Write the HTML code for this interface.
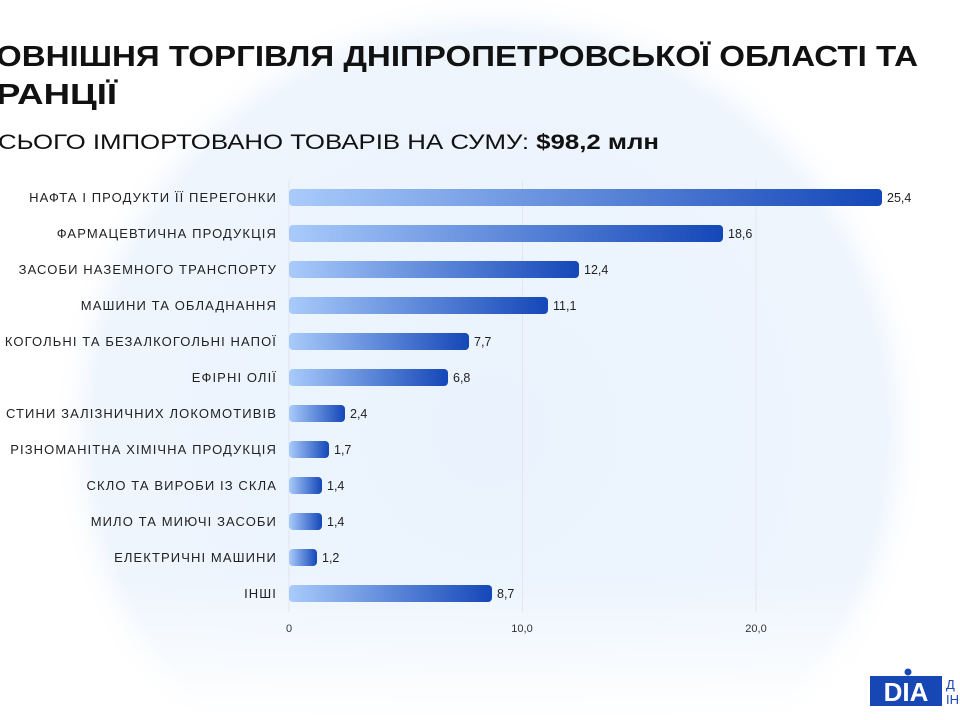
<!DOCTYPE html>
<html><head><meta charset="utf-8"><style>
html,body{margin:0;padding:0;background:#fff;width:960px;height:720px;overflow:hidden;}
body{position:relative;font-family:"Liberation Sans","DejaVu Sans",sans-serif;}
svg{display:block;}
</style></head><body>
<svg width="960" height="720" viewBox="0 0 960 720" xmlns="http://www.w3.org/2000/svg" style="position:absolute;left:0;top:0">
<defs>
<radialGradient id="bg" cx="490" cy="430" r="440" gradientUnits="userSpaceOnUse">
<stop offset="0" stop-color="#eaf3fd"/><stop offset="0.9" stop-color="#eef5fd"/><stop offset="1" stop-color="#ffffff" stop-opacity="0"/>
</radialGradient>
<linearGradient id="bar" x1="0" y1="0" x2="1" y2="0">
<stop offset="0" stop-color="#a9cbfb"/><stop offset="1" stop-color="#1447b8"/>
</linearGradient>
<linearGradient id="fade" x1="0" y1="0" x2="0" y2="1">
<stop offset="0.8" stop-color="#fff" stop-opacity="0"/><stop offset="1" stop-color="#fff" stop-opacity="1"/>
</linearGradient>
</defs>
<rect width="960" height="720" fill="#fff"/>
<circle cx="490" cy="430" r="440" fill="url(#bg)"/>
<rect width="960" height="720" fill="url(#fade)"/>
<g font-weight="bold" font-size="29" fill="#111">
<text x="-4" y="66" textLength="922" lengthAdjust="spacingAndGlyphs">ОВНІШНЯ ТОРГІВЛЯ ДНІПРОПЕТРОВСЬКОЇ ОБЛАСТІ ТА</text>
<text x="-4" y="104" textLength="121" lengthAdjust="spacingAndGlyphs">РАНЦІЇ</text>
</g>
<text x="-2" y="149" font-size="21" fill="#111" textLength="661" lengthAdjust="spacingAndGlyphs">СЬОГО ІМПОРТОВАНО ТОВАРІВ НА СУМУ: <tspan font-weight="bold">$98,2 млн</tspan></text>
<g stroke="#e2e6ee" stroke-width="1">
<line x1="289" y1="180" x2="289" y2="612"/>
<line x1="522.5" y1="180" x2="522.5" y2="612"/>
<line x1="756" y1="180" x2="756" y2="612"/>
</g>
<g font-size="11" fill="#333" text-anchor="middle">
<text x="289" y="632">0</text><text x="522" y="632">10,0</text><text x="756" y="632">20,0</text>
</g>
<g font-size="13" fill="#222" text-anchor="end" letter-spacing="1.1">
<text x="277" y="202">НАФТА І ПРОДУКТИ ЇЇ ПЕРЕГОНКИ</text>
<text x="277" y="238">ФАРМАЦЕВТИЧНА ПРОДУКЦІЯ</text>
<text x="277" y="274">ЗАСОБИ НАЗЕМНОГО ТРАНСПОРТУ</text>
<text x="277" y="310">МАШИНИ ТА ОБЛАДНАННЯ</text>
<text x="277" y="346">КОГОЛЬНІ ТА БЕЗАЛКОГОЛЬНІ НАПОЇ</text>
<text x="277" y="382">ЕФІРНІ ОЛІЇ</text>
<text x="277" y="418">СТИНИ ЗАЛІЗНИЧНИХ ЛОКОМОТИВІВ</text>
<text x="277" y="454">РІЗНОМАНІТНА ХІМІЧНА ПРОДУКЦІЯ</text>
<text x="277" y="490">СКЛО ТА ВИРОБИ ІЗ СКЛА</text>
<text x="277" y="526">МИЛО ТА МИЮЧІ ЗАСОБИ</text>
<text x="277" y="562">ЕЛЕКТРИЧНІ МАШИНИ</text>
<text x="277" y="598">ІНШІ</text>
</g>
<g fill="url(#bar)">
<rect x="289" y="189" width="593" height="17" rx="4"/>
<rect x="289" y="225" width="434" height="17" rx="4"/>
<rect x="289" y="261" width="290" height="17" rx="4"/>
<rect x="289" y="297" width="259" height="17" rx="4"/>
<rect x="289" y="333" width="180" height="17" rx="4"/>
<rect x="289" y="369" width="159" height="17" rx="4"/>
<rect x="289" y="405" width="56" height="17" rx="4"/>
<rect x="289" y="441" width="40" height="17" rx="4"/>
<rect x="289" y="477" width="33" height="17" rx="4"/>
<rect x="289" y="513" width="33" height="17" rx="4"/>
<rect x="289" y="549" width="28" height="17" rx="4"/>
<rect x="289" y="585" width="203" height="17" rx="4"/>
</g>
<g font-size="12.5" fill="#222">
<text x="887" y="202">25,4</text>
<text x="728" y="238">18,6</text>
<text x="584" y="274">12,4</text>
<text x="553" y="310">11,1</text>
<text x="474" y="346">7,7</text>
<text x="453" y="382">6,8</text>
<text x="350" y="418">2,4</text>
<text x="334" y="454">1,7</text>
<text x="327" y="490">1,4</text>
<text x="327" y="526">1,4</text>
<text x="322" y="562">1,2</text>
<text x="497" y="598">8,7</text>
</g>
<g>
<rect x="870" y="676" width="72" height="30" fill="#1747b5"/>
<text x="906" y="701" font-size="26" font-weight="bold" fill="#fff" text-anchor="middle">DIA</text>
<circle cx="908" cy="672" r="3.5" fill="#1747b5"/>
<text x="946" y="689" font-size="13" fill="#1747b5">Д</text>
<text x="946" y="704" font-size="13" fill="#1747b5">ІН</text>
</g>
</svg>
</body></html>
